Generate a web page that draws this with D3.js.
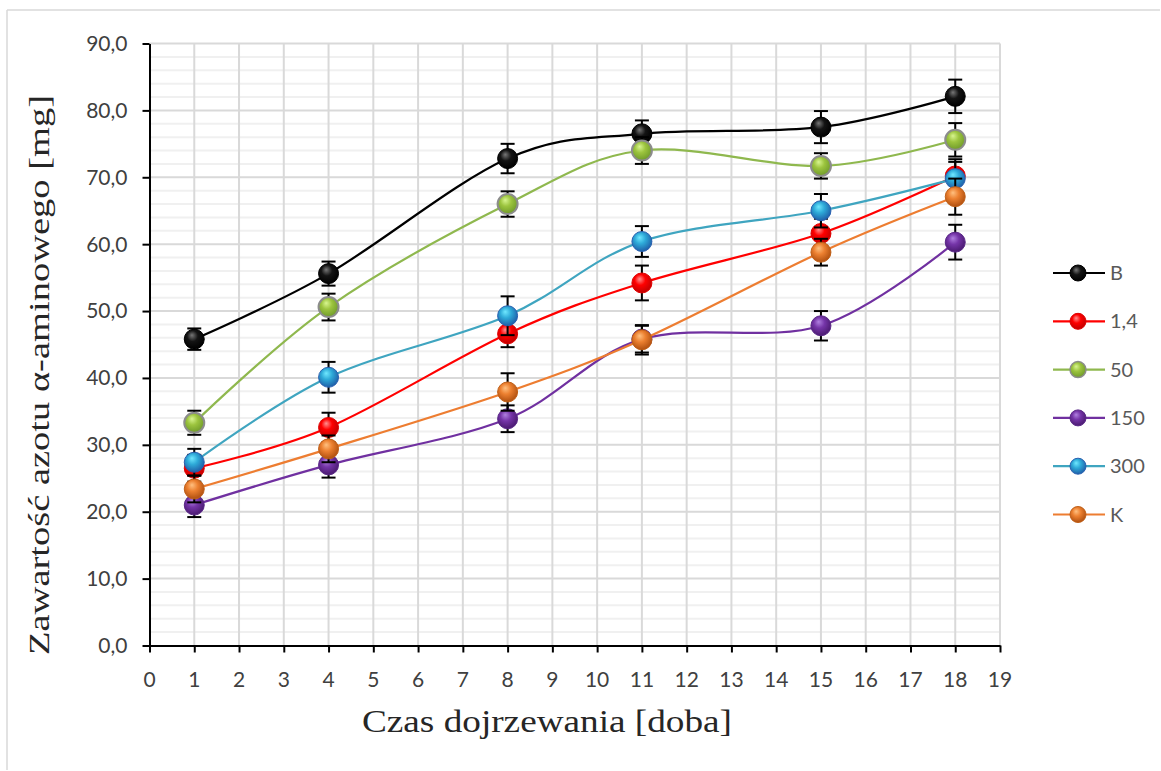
<!DOCTYPE html>
<html>
<head>
<meta charset="utf-8">
<script src="https://cdn.jsdelivr.net/npm/d3@7"></script>
<style>
  body { margin: 0; background: #fff; }
</style>
</head>
<body>
<div id="chart"></div>
<script>
// Data
const days = [1, 4, 8, 11, 15, 18];
const seriesNames = ['B', '1,4', '50', '150', '300', 'K'];

const valuesB   = [45.8, 55.6, 72.8, 76.5, 77.5, 82.1];
const values14  = [26.5, 32.6, 46.6, 54.2, 61.6, 70.2];
const values50  = [33.3, 50.6, 66.0, 74.0, 71.7, 75.6];
const values150 = [21.0, 27.0, 33.9, 45.8, 47.8, 60.3];
const values300 = [27.4, 40.1, 49.3, 60.4, 65.0, 69.8];
const valuesK   = [23.4, 29.4, 37.9, 45.7, 58.8, 67.1];

const errB   = [1.6, 1.8, 2.2, 2.0, 2.4, 2.5];
const err14  = [2.0, 2.2, 2.0, 2.6, 2.2, 2.5];
const err50  = [1.8, 2.0, 1.9, 2.0, 1.9, 2.5];
const err150 = [1.8, 1.9, 2.0, 2.0, 2.2, 2.6];
const err300 = [2.0, 2.3, 2.9, 2.3, 2.5, 2.5];
const errK   = [2.0, 2.0, 2.8, 2.2, 2.0, 2.7];

const yTicks = [0, 10, 20, 30, 40, 50, 60, 70, 80, 90];
const xTicks = d3.range(0, 20);

const width = 1161, height = 771;
const margin = { top: 43.5, right: 161, bottom: 125.5, left: 149.5 };
const innerWidth = width - margin.left - margin.right;
const innerHeight = height - margin.top - margin.bottom;

const allValues = [valuesB, values14, values50, values150, values300, valuesK];
const allErrors = [errB, err14, err50, err150, err300, errK];

// colours: line, marker light / base / dark, marker outline
const styles = [
  { line: '#000000', light: '#777777', base: '#141414', dark: '#000000', stroke: '#000000' },
  { line: '#ff0000', light: '#ff9090', base: '#ff0000', dark: '#c00000', stroke: '#e00000' },
  { line: '#8fb84e', light: '#d8f590', base: '#9cc43e', dark: '#6f9a2a', stroke: '#8c8c8c' },
  { line: '#7030a0', light: '#b080e0', base: '#7535a8', dark: '#4a1a70', stroke: '#5a2888' },
  { line: '#3fa5c0', light: '#70e8ff', base: '#2eaad8', dark: '#1f5fa8', stroke: '#2860b0' },
  { line: '#ed7d31', light: '#ffc080', base: '#ec8030', dark: '#b05010', stroke: '#c06018' }
];

const series = seriesNames.map((name, i) => ({
  name,
  style: styles[i],
  points: days.map((d, j) => ({ x: d, y: allValues[i][j], e: allErrors[i][j] }))
}));

const svg = d3.select('#chart')
  .append('svg')
  .attr('width', width)
  .attr('height', height)
  .style('display', 'block');

// Outer frame (only top and left edges are visible in the original)
svg.append('line')
  .attr('x1', 7).attr('x2', 7).attr('y1', 10).attr('y2', height - 1)
  .attr('stroke', '#d9d9d9').attr('stroke-width', 1.5);
svg.append('line')
  .attr('x1', 7).attr('x2', width - 1).attr('y1', 10).attr('y2', 10)
  .attr('stroke', '#d9d9d9').attr('stroke-width', 1.5);

// Gradients for glossy markers
const defs = svg.append('defs');
series.forEach((s, i) => {
  const grad = defs.append('radialGradient')
    .attr('id', 'grad' + i)
    .attr('cx', '45%').attr('cy', '40%').attr('r', '60%')
    .attr('fx', '38%').attr('fy', '30%');
  grad.append('stop').attr('offset', '0%').attr('stop-color', s.style.light);
  grad.append('stop').attr('offset', '45%').attr('stop-color', s.style.base);
  grad.append('stop').attr('offset', '100%').attr('stop-color', s.style.dark);
});

const g = svg.append('g')
  .attr('transform', `translate(${margin.left},${margin.top})`);

// Scales
const xScale = d3.scaleLinear().domain([0, 19]).range([0, innerWidth]);
const yScale = d3.scaleLinear().domain([0, 90]).range([innerHeight, 0]);

// Grid lines
const grid = g.append('g').attr('class', 'grid');

grid.selectAll('.grid-minor')
  .data(d3.range(2, 90, 2).filter(v => v % 10 !== 0))
  .enter()
  .append('line')
  .attr('x1', 0).attr('x2', innerWidth)
  .attr('y1', d => yScale(d)).attr('y2', d => yScale(d))
  .attr('stroke', '#f0f0f0')
  .attr('stroke-width', 2);

grid.selectAll('.grid-h')
  .data(yTicks.slice(1))
  .enter()
  .append('line')
  .attr('x1', 0).attr('x2', innerWidth)
  .attr('y1', d => yScale(d)).attr('y2', d => yScale(d))
  .attr('stroke', '#d9d9d9')
  .attr('stroke-width', 2);

grid.selectAll('.grid-v')
  .data(xTicks.slice(1))
  .enter()
  .append('line')
  .attr('x1', d => xScale(d)).attr('x2', d => xScale(d))
  .attr('y1', 0).attr('y2', innerHeight)
  .attr('stroke', '#d9d9d9')
  .attr('stroke-width', 2);

// Axes (lines from d3 axes, labels placed from the same scales)
const fmt = d => d3.format('.1f')(d).replace('.', ',');
const tickFont = 'Lato, "Open Sans", sans-serif';

g.append('g')
  .call(d3.axisLeft(yScale).tickValues(yTicks).tickFormat('').tickSize(7).tickSizeOuter(0))
  .call(a => a.select('.domain').attr('stroke', '#000').attr('stroke-width', 2))
  .call(a => a.selectAll('line').attr('stroke', '#000').attr('stroke-width', 2))
  .call(a => a.selectAll('text').remove());

g.append('g')
  .attr('transform', `translate(0,${innerHeight})`)
  .call(d3.axisBottom(xScale).tickValues(xTicks).tickFormat('').tickSize(7).tickSizeOuter(0))
  .call(a => a.select('.domain').attr('stroke', '#000').attr('stroke-width', 2))
  .call(a => a.selectAll('line').attr('stroke', '#000').attr('stroke-width', 2))
  .call(a => a.selectAll('text').remove());

g.append('g')
  .selectAll('text')
  .data(yTicks)
  .enter()
  .append('text')
  .attr('x', -22)
  .attr('y', d => yScale(d))
  .attr('dy', '0.35em')
  .attr('text-anchor', 'end')
  .attr('fill', '#404040')
  .attr('font-family', tickFont)
  .attr('font-size', 21)
  .text(fmt);

g.append('g')
  .selectAll('text')
  .data(xTicks)
  .enter()
  .append('text')
  .attr('x', d => xScale(d))
  .attr('y', innerHeight + 41)
  .attr('text-anchor', 'middle')
  .attr('fill', '#404040')
  .attr('font-family', tickFont)
  .attr('font-size', 21)
  .text(d => d);

// Axis titles
svg.append('text')
  .attr('x', 547)
  .attr('y', 732)
  .attr('text-anchor', 'middle')
  .attr('fill', '#262626')
  .attr('textLength', 370)
  .attr('lengthAdjust', 'spacingAndGlyphs')
  .attr('font-family', '"Liberation Serif", "Times New Roman", serif')
  .attr('font-size', 32)
  .text('Czas dojrzewania [doba]');

svg.append('text')
  .attr('transform', 'translate(49,375) rotate(-90)')
  .attr('text-anchor', 'middle')
  .attr('fill', '#262626')
  .attr('textLength', 560)
  .attr('lengthAdjust', 'spacingAndGlyphs')
  .attr('font-family', '"Liberation Serif", "Times New Roman", serif')
  .attr('font-size', 30)
  .text('Zawartość azotu α-aminowego [mg]');

// Series
const line = d3.line()
  .x(d => xScale(d.x))
  .y(d => yScale(d.y))
  .curve(d3.curveCardinal.tension(0));

const markerR = 10;

series.forEach((s, i) => {
  const sg = g.append('g').attr('class', 'series');

  sg.append('path')
    .datum(s.points)
    .attr('d', line)
    .attr('fill', 'none')
    .attr('stroke', s.style.line)
    .attr('stroke-width', 2.2);

  // Error bars
  const eb = sg.selectAll('.err')
    .data(s.points)
    .enter()
    .append('g')
    .attr('stroke', '#000')
    .attr('stroke-width', 2);

  eb.append('line')
    .attr('x1', d => xScale(d.x)).attr('x2', d => xScale(d.x))
    .attr('y1', d => yScale(d.y + d.e)).attr('y2', d => yScale(d.y - d.e));
  eb.append('line')
    .attr('x1', d => xScale(d.x) - 7).attr('x2', d => xScale(d.x) + 7)
    .attr('y1', d => yScale(d.y + d.e)).attr('y2', d => yScale(d.y + d.e));
  eb.append('line')
    .attr('x1', d => xScale(d.x) - 7).attr('x2', d => xScale(d.x) + 7)
    .attr('y1', d => yScale(d.y - d.e)).attr('y2', d => yScale(d.y - d.e));

  sg.selectAll('.pt')
    .data(s.points)
    .enter()
    .append('circle')
    .attr('cx', d => xScale(d.x))
    .attr('cy', d => yScale(d.y))
    .attr('r', markerR)
    .attr('fill', `url(#grad${i})`)
    .attr('stroke', s.style.stroke)
    .attr('stroke-width', i === 2 ? 2 : 1);
});

// Legend
const legend = svg.append('g').attr('class', 'legend');
const legendY0 = 273, legendStep = 48.3;

series.forEach((s, i) => {
  const y = legendY0 + i * legendStep;
  const item = legend.append('g');
  item.append('line')
    .attr('x1', 1053).attr('x2', 1105)
    .attr('y1', y).attr('y2', y)
    .attr('stroke', s.style.line)
    .attr('stroke-width', 2.2);
  item.append('circle')
    .attr('cx', 1078).attr('cy', y)
    .attr('r', 8)
    .attr('fill', `url(#grad${i})`)
    .attr('stroke', s.style.stroke)
    .attr('stroke-width', i === 2 ? 1.5 : 1);
  item.append('text')
    .attr('x', 1110)
    .attr('y', y)
    .attr('dy', '0.35em')
    .attr('fill', '#595959')
    .attr('font-family', tickFont)
    .attr('font-size', 20)
    .text(s.name);
});
</script>
</body>
</html>
